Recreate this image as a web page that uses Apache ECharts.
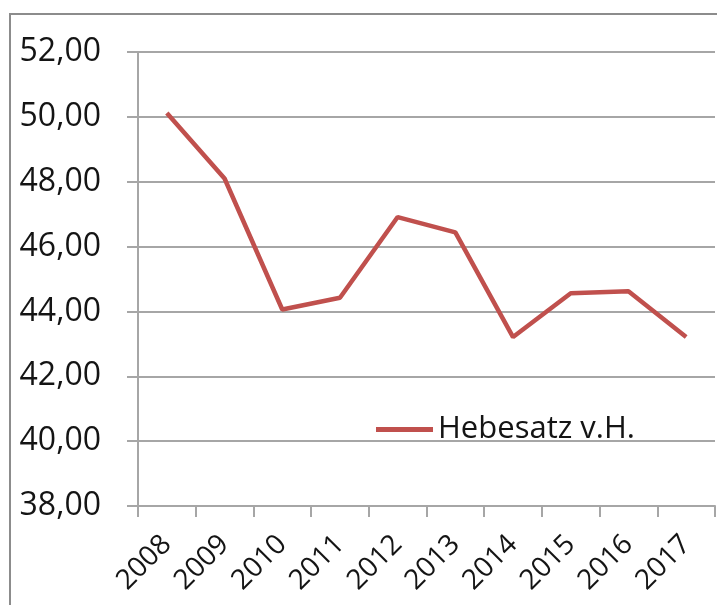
<!DOCTYPE html>
<html>
<head>
<meta charset="utf-8">
<script src="https://cdn.jsdelivr.net/npm/echarts@6/dist/echarts.min.js"></script>
<style>
  html, body { margin: 0; padding: 0; background: #fff; }
  #chart { width: 717px; height: 605px; }
</style>
</head>
<body>
<div id="chart"></div>
<script>
const years = ['2008', '2009', '2010', '2011', '2012', '2013', '2014', '2015', '2016', '2017'];
const hebesatz = [50.12, 48.10, 44.06, 44.42, 46.91, 46.44, 43.21, 44.56, 44.62, 43.21];
const seriesName = 'Hebesatz v.H.';

const chart = echarts.init(document.getElementById('chart'));

const fontFamily = '"Open Sans", "Noto Sans", sans-serif';
const textColor = '#141414';
const gridColor = '#a6a6a6';

const option = {
    animation: false,
    textStyle: { fontFamily: fontFamily },
    graphic: [
        {
            // outer chart frame (top and left edges visible)
            type: 'rect',
            shape: { x: 10, y: 14, width: 720, height: 600 },
            style: { fill: 'none', stroke: '#8c8c8c', lineWidth: 2 },
            silent: true
        }
    ],
    grid: {
        left: 138,
        top: 52,
        right: 2,
        bottom: 99
    },
    legend: {
        data: [seriesName],
        left: 371,
        top: 409,
        icon: 'rect',
        itemWidth: 57,
        itemHeight: 5,
        itemGap: 6,
        textStyle: {
            color: textColor,
            fontSize: 31,
            fontFamily: fontFamily
        }
    },
    xAxis: {
        type: 'category',
        data: years,
        boundaryGap: true,
        axisLine: { lineStyle: { color: gridColor, width: 2 } },
        axisTick: { show: true, length: 11, lineStyle: { color: gridColor, width: 2 } },
        axisLabel: {
            rotate: 45,
            margin: 34,
            color: textColor,
            fontSize: 28,
            fontFamily: fontFamily
        }
    },
    yAxis: {
        type: 'value',
        min: 38,
        max: 52,
        interval: 2,
        axisLine: { show: true, lineStyle: { color: gridColor, width: 2 } },
        axisTick: { show: true, length: 11, lineStyle: { color: gridColor, width: 2 } },
        splitLine: { lineStyle: { color: gridColor, width: 2 } },
        axisLabel: {
            margin: 37,
            color: textColor,
            fontSize: 32,
            fontFamily: fontFamily,
            formatter: function (v) {
                return v.toFixed(2).replace('.', ',');
            }
        }
    },
    series: [
        {
            name: seriesName,
            type: 'line',
            data: hebesatz,
            showSymbol: false,
            symbol: 'none',
            lineStyle: { color: '#c0504d', width: 4.5 },
            itemStyle: { color: '#c0504d' }
        }
    ]
};

chart.setOption(option);
</script>
</body>
</html>
